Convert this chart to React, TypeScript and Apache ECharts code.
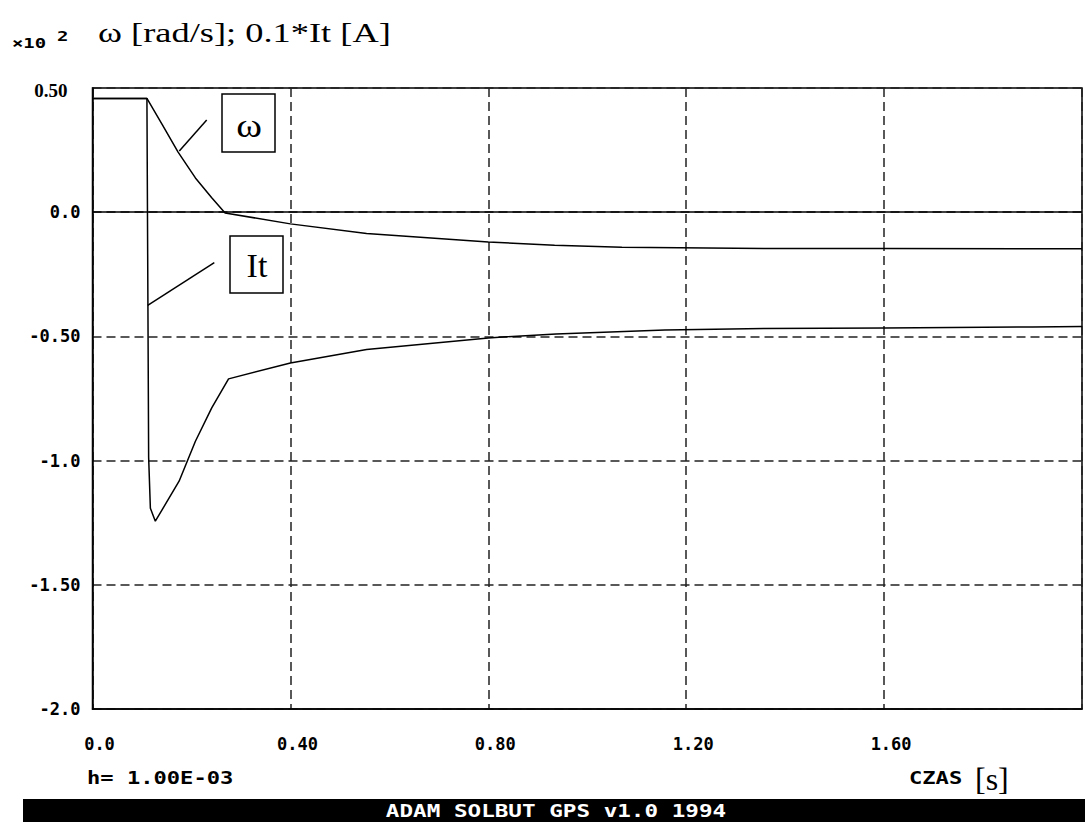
import React, { useEffect, useRef } from "react";
import * as echarts from "echarts";

// time [s]
const omegaT = [0, 0.11, 0.141, 0.173, 0.208, 0.241, 0.268, 0.4, 0.554, 0.8, 0.934, 1.07, 1.36, 1.6, 2.0];
// ω [rad/s] ×10²
const omegaV = [0.458, 0.458, 0.353, 0.242, 0.138, 0.058, -0.003, -0.047, -0.086, -0.12, -0.133, -0.141, -0.146, -0.146, -0.147];

const itT = [0, 0.11, 0.1135, 0.117, 0.127, 0.175, 0.208, 0.241, 0.275, 0.4, 0.554, 0.8, 0.937, 1.157, 1.357, 1.6, 1.9, 2.0];
// 0.1*It [A] ×10²
const itV = [0.458, 0.458, -0.988, -1.192, -1.244, -1.083, -0.922, -0.788, -0.671, -0.607, -0.553, -0.506, -0.49, -0.474, -0.468, -0.466, -0.462, -0.46];

const yTickLabels: Record<string, string> = {
  "0.5": "0.50",
  "0": "0.0",
  "-0.5": "-0.50",
  "-1": "-1.0",
  "-1.5": "-1.50",
  "-2": "-2.0",
};
const xTickLabels: Record<string, string> = {
  "0": "0.0",
  "0.4": "0.40",
  "0.8": "0.80",
  "1.2": "1.20",
  "1.6": "1.60",
  "2": "",
};

const TITLE = "ω [rad/s]; 0.1*It [A]";
const FOOTER = "ADAM SOLBUT GPS v1.0 1994";

const MONO = "'DejaVu Sans Mono', monospace";
const SERIF = "'Liberation Serif', 'Times New Roman', serif";

export default function App() {
  const ref = useRef<HTMLDivElement>(null);
  useEffect(() => {
    if (!ref.current) return;
    const chart = echarts.init(ref.current, null, { renderer: "svg" });
    const key = (v: number) => String(Math.round(v * 100) / 100);
    const lineStyle = { color: "#000", width: 1.5 };
    chart.setOption({
      animation: false,
      backgroundColor: "#fff",
      grid: {
        left: 92.5,
        top: 88,
        width: 998,
        height: 621,
        show: true,
        borderColor: "#000",
        borderWidth: 1.5,
        backgroundColor: "transparent",
      },
      xAxis: {
        type: "value",
        min: 0,
        max: 2,
        interval: 0.4,
        axisLine: { show: true, onZero: false, lineStyle: { color: "#000", width: 1.5 } },
        axisTick: { show: false },
        splitLine: { show: true, lineStyle: { color: "#222", width: 1.5, type: [9, 5] } },
        axisLabel: {
          formatter: (v: number) => xTickLabels[key(v)] ?? "",
          fontFamily: MONO,
          fontWeight: "bold",
          fontSize: 17,
          color: "#000",
          margin: 26,
          padding: [0, 0, 0, 14],
        },
      },
      yAxis: {
        type: "value",
        min: -2,
        max: 0.5,
        interval: 0.5,
        axisLine: { show: true, lineStyle: { color: "#000", width: 1.5 } },
        axisTick: { show: false },
        splitLine: { show: true, lineStyle: { color: "#222", width: 1.5, type: [9, 5] } },
        axisLabel: {
          formatter: (v: number) => {
            const s = yTickLabels[key(v)] ?? "";
            return key(v) === "0.5" ? "{s|" + s + "}" : s;
          },
          fontFamily: MONO,
          fontWeight: "bold",
          fontSize: 17,
          color: "#000",
          margin: 12,
          rich: {
            s: { fontFamily: SERIF, fontWeight: "bold", fontSize: 19, color: "#000", padding: [4, 13, 0, 0] },
          },
        },
      },
      series: [
        {
          name: "ω",
          type: "line",
          data: omegaT.map((t, i) => [t, omegaV[i]]),
          showSymbol: false,
          lineStyle,
          color: "#000",
          markLine: {
            silent: true,
            symbol: ["none", "none"],
            label: { show: false },
            lineStyle: { color: "#000", width: 1.5, type: "solid" },
            data: [{ yAxis: 0 }],
          },
        },
        {
          name: "It",
          type: "line",
          data: itT.map((t, i) => [t, itV[i]]),
          showSymbol: false,
          lineStyle,
          color: "#000",
        },
      ],
      graphic: [
        {
          type: "text",
          x: 98,
          y: 33,
          scaleX: 1.3,
          style: { text: TITLE, font: `28px ${SERIF}`, fill: "#000", verticalAlign: "middle" },
        },
        {
          type: "text",
          x: 12,
          y: 43,
          scaleX: 1.35,
          style: { text: "×10", font: `bold 14px ${MONO}`, fill: "#000", verticalAlign: "middle" },
        },
        {
          type: "text",
          x: 57,
          y: 36,
          scaleX: 1.35,
          style: { text: "2", font: `bold 14px ${MONO}`, fill: "#000", verticalAlign: "middle" },
        },
        // annotation ω
        { type: "line", shape: { x1: 206.7, y1: 120, x2: 179.3, y2: 151 }, style: { stroke: "#000", lineWidth: 1.5 } },
        { type: "rect", shape: { x: 222, y: 94, width: 53, height: 58 }, style: { fill: "#fff", stroke: "#000", lineWidth: 1.5 } },
        {
          type: "text",
          x: 249,
          y: 125,
          scaleX: 1.15,
          style: { text: "ω", font: `34px ${SERIF}`, fill: "#000", align: "center", verticalAlign: "middle" },
        },
        // annotation It
        { type: "line", shape: { x1: 214.3, y1: 262.7, x2: 147.7, y2: 305.3 }, style: { stroke: "#000", lineWidth: 1.5 } },
        { type: "rect", shape: { x: 230, y: 236, width: 53, height: 57 }, style: { fill: "#fff", stroke: "#000", lineWidth: 1.5 } },
        {
          type: "text",
          x: 257,
          y: 265,
          style: { text: "It", font: `34px ${SERIF}`, fill: "#000", align: "center", verticalAlign: "middle" },
        },
        // bottom texts
        {
          type: "text",
          x: 87,
          y: 778,
          scaleX: 1.3,
          style: { text: "h= 1.00E-03", font: `bold 17px ${MONO}`, fill: "#000", verticalAlign: "middle" },
        },
        {
          type: "text",
          x: 909,
          y: 778,
          scaleX: 1.3,
          style: { text: "CZAS", font: `bold 17px ${MONO}`, fill: "#000", verticalAlign: "middle" },
        },
        {
          type: "text",
          x: 975,
          y: 779,
          style: { text: "[s]", font: `32px ${SERIF}`, fill: "#000", verticalAlign: "middle" },
        },
        // footer band
        { type: "rect", shape: { x: 23, y: 799, width: 1070, height: 30 }, style: { fill: "#000" } },
        {
          type: "text",
          x: 556,
          y: 811,
          scaleX: 1.33,
          style: { text: FOOTER, font: `bold 17px ${MONO}`, fill: "#fff", align: "center", verticalAlign: "middle" },
        },
      ],
    });
    return () => chart.dispose();
  }, []);
  return (
    <div
      ref={ref}
      style={{ position: "fixed", left: 0, top: 0, width: 1085, height: 822, overflow: "hidden" }}
    />
  );
}
